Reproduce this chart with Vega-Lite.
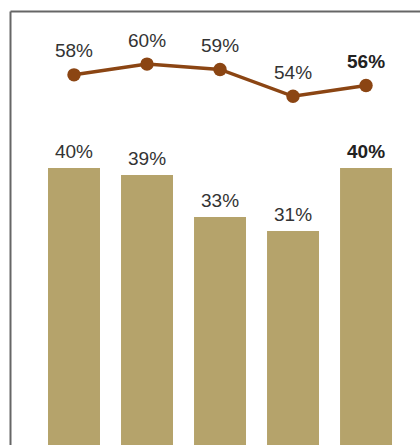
{
  "$schema": "https://vega.github.io/schema/vega-lite/v6.json",
  "width": 410,
  "height": 434,
  "autosize": "none",
  "padding": {"left": 10, "top": 11, "right": 0, "bottom": 0},
  "background": "white",
  "config": {"view": {"stroke": null}, "font": "Liberation Sans"},
  "data": {"values": [
    {"period": "P1", "bar": 0.40, "line": 0.58},
    {"period": "P2", "bar": 0.39, "line": 0.60},
    {"period": "P3", "bar": 0.33, "line": 0.59},
    {"period": "P4", "bar": 0.31, "line": 0.54},
    {"period": "P5", "bar": 0.40, "line": 0.56}
  ]},
  "encoding": {
    "x": {
      "field": "period", "type": "nominal", "sort": null,
      "scale": {"paddingInner": 0.288, "paddingOuter": 0.452, "align": 0.576},
      "axis": {"orient": "top", "labels": false, "ticks": false, "title": null, "domainColor": "#666666", "domainWidth": 2, "minExtent": 0, "maxExtent": 0, "grid": false}
    }
  },
  "layer": [
    {
      "layer": [
        {
          "mark": {"type": "bar", "color": "#b5a36b"},
          "encoding": {
            "y": {
              "field": "bar", "type": "quantitative",
              "scale": {"domain": [0.0043, 0.624], "zero": false, "nice": false},
              "axis": {"labels": false, "ticks": false, "grid": false, "title": null, "domainColor": "#666666", "domainWidth": 2, "minExtent": 0, "maxExtent": 0}
            }
          }
        },
        {
          "transform": [{"filter": "datum.period !== 'P5'"}],
          "mark": {"type": "text", "dy": -10, "baseline": "alphabetic", "fontSize": 19, "color": "#333333"},
          "encoding": {
            "y": {"field": "bar", "type": "quantitative"},
            "text": {"field": "bar", "type": "quantitative", "format": ".0%"}
          }
        },
        {
          "transform": [{"filter": "datum.period === 'P5'"}],
          "mark": {"type": "text", "dy": -10, "baseline": "alphabetic", "fontSize": 19, "fontWeight": "bold", "color": "#222222"},
          "encoding": {
            "y": {"field": "bar", "type": "quantitative"},
            "text": {"field": "bar", "type": "quantitative", "format": ".0%"}
          }
        }
      ]
    },
    {
      "layer": [
        {
          "mark": {"type": "line", "color": "#8b4513", "strokeWidth": 3.5},
          "encoding": {
            "y": {
              "field": "line", "type": "quantitative",
              "scale": {"domain": [-0.110, 0.699], "zero": false, "nice": false},
              "axis": null
            }
          }
        },
        {
          "mark": {"type": "point", "filled": true, "size": 180, "opacity": 1, "color": "#8b4513"},
          "encoding": {"y": {"field": "line", "type": "quantitative"}}
        },
        {
          "transform": [{"filter": "datum.period !== 'P5'"}],
          "mark": {"type": "text", "dy": -17.5, "baseline": "alphabetic", "fontSize": 19, "color": "#333333"},
          "encoding": {
            "y": {"field": "line", "type": "quantitative"},
            "text": {"field": "line", "type": "quantitative", "format": ".0%"}
          }
        },
        {
          "transform": [{"filter": "datum.period === 'P5'"}],
          "mark": {"type": "text", "dy": -17.5, "baseline": "alphabetic", "fontSize": 19, "fontWeight": "bold", "color": "#222222"},
          "encoding": {
            "y": {"field": "line", "type": "quantitative"},
            "text": {"field": "line", "type": "quantitative", "format": ".0%"}
          }
        }
      ]
    }
  ],
  "resolve": {"scale": {"y": "independent"}}
}
